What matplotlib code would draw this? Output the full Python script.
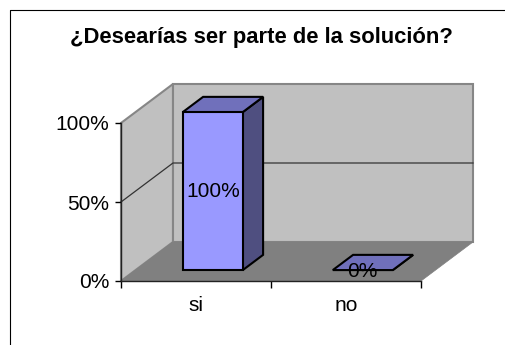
import matplotlib.pyplot as plt
from matplotlib.lines import Line2D
from matplotlib.patches import Polygon

plt.rcParams['font.family'] = ['Liberation Sans', 'DejaVu Sans']

# Data
categories = ['si', 'no']
values = [1.0, 0.0]
value_labels = ['100%', '0%']
y_ticks = [0, 0.5, 1.0]
y_tick_labels = ['0%', '50%', '100%']

W, H = 505, 345
fig = plt.figure(figsize=(W / 100, H / 100), dpi=100, facecolor='white')

# front plane of the 3d box, the rest is offset from it
left, right, top, bottom = 121, 421, 123, 281
ax = fig.add_axes([left / W, 1 - bottom / H, (right - left) / W, (bottom - top) / H])
ax.set_xlim(0, len(categories))
ax.set_ylim(0, 1)
ax.patch.set_visible(False)

DEPTH_X = 52 / 150  # full depth in category units
DEPTH_Y = 39 / 158  # full depth in value units


def proj(x, y, d):
    return (x + d * DEPTH_X, y + d * DEPTH_Y)


def face(points, color, edge='black', lw=1.5, z=2):
    ax.add_patch(Polygon([proj(*p) for p in points], closed=True, facecolor=color,
                         edgecolor=edge, linewidth=lw, clip_on=False, zorder=z,
                         joinstyle='miter'))


n = len(categories)
# walls and floor
face([(0, 1, 0), (0, 1, 1), (0, 0, 1), (0, 0, 0)], '#c0c0c0', '#868686', 1.5, 1)
face([(0, 1, 1), (n, 1, 1), (n, 0, 1), (0, 0, 1)], '#c0c0c0', '#868686', 1.5, 1)
face([(0, 0, 0), (0, 0, 1), (n, 0, 1), (n, 0, 0)], '#808080', '#808080', 0.5, 1.2)

# gridlines
for t in y_ticks[1:-1]:
    pts = [proj(0, t, 0), proj(0, t, 1), proj(n, t, 1)]
    ax.plot([p[0] for p in pts], [p[1] for p in pts], color='#333333', lw=0.9,
            clip_on=False, zorder=1.5)

# bars
bar_w = 0.4
d0, d1 = 0.28, 0.67
for i, (v, lab) in enumerate(zip(values, value_labels)):
    x0 = i + 0.5 - bar_w / 2 + 0.015
    x1 = x0 + bar_w
    face([(x1, 0, d0), (x1, 0, d1), (x1, v, d1), (x1, v, d0)], '#4f4f80')
    face([(x0, v, d0), (x0, v, d1), (x1, v, d1), (x1, v, d0)], '#7070bb')
    if v > 0:
        face([(x0, 0, d0), (x1, 0, d0), (x1, v, d0), (x0, v, d0)], '#9999ff')
    cx, cy = proj((x0 + x1) / 2, v / 2, d0)
    # the flat bar's label sits a little lower on its front edge
    ax.text(cx, cy if v > 0 else cy - 0.012, lab, ha='center', va='center',
            fontsize=15, color='black', zorder=5)

# axes and ticks
for s in ['top', 'right']:
    ax.spines[s].set_visible(False)
for s in ['left', 'bottom']:
    ax.spines[s].set_linewidth(1.0)
    ax.spines[s].set_color('#222222')
    ax.spines[s].set_zorder(3)
ax.set_yticks(y_ticks)
ax.set_yticklabels(y_tick_labels, fontsize=15)
ax.tick_params(axis='y', length=4.3, width=1.0, pad=4)
ax.set_xticks(range(n + 1))
ax.set_xticklabels([])
ax.set_xticks([i + 0.5 for i in range(n)], minor=True)
ax.set_xticklabels(categories, minor=True, fontsize=15)
ax.tick_params(axis='x', which='major', length=5, width=1.0)
ax.tick_params(axis='x', which='minor', length=0, pad=11)

fig.text(261 / W, 1 - 37.5 / H, '¿Desearías ser parte de la solución?', ha='center',
         va='center', fontsize=15.8, fontweight='bold')

# chart frame, right and bottom run off the image
fig.add_artist(Line2D([10 / W, 10 / W, 1], [0, 1 - 9.5 / H, 1 - 9.5 / H],
                      color='black', lw=0.8))

fig.savefig('out.png', dpi=100)
